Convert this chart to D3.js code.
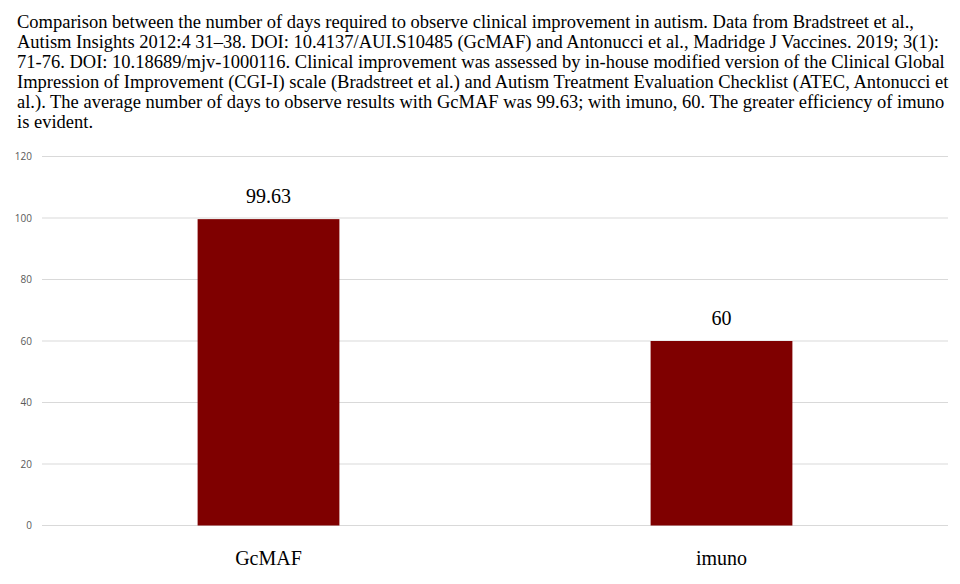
<!DOCTYPE html>
<html><head><meta charset="utf-8">
<script src="https://cdn.jsdelivr.net/npm/d3@7"></script>
<style>body{margin:0;background:#fff}svg{display:block}</style>
</head><body>
<svg id="chart" width="960" height="584"></svg>
<script>
const categories = ["GcMAF", "imuno"];
const values = [99.63, 60];
const valueLabels = ["99.63", "60"];
const yTicks = [0, 20, 40, 60, 80, 100, 120];
const titleLines = [
  "Comparison between the number of days required to observe clinical improvement in autism. Data from Bradstreet et al.,",
  "Autism Insights 2012:4 31\u201338. DOI: 10.4137/AUI.S10485 (GcMAF) and Antonucci et al., Madridge J Vaccines. 2019; 3(1):",
  "71-76. DOI: 10.18689/mjv-1000116. Clinical improvement was assessed by in-house modified version of the Clinical Global",
  "Impression of Improvement (CGI-I) scale (Bradstreet et al.) and Autism Treatment Evaluation Checklist (ATEC, Antonucci et",
  "al.). The average number of days to observe results with GcMAF was 99.63; with imuno, 60. The greater efficiency of imuno",
  "is evident."
];

const svg = d3.select("#chart");
const mLeft = 42, mRight = 948, mTop = 156.5, mBottom = 525.5;

svg.append("g").selectAll("text").data(titleLines).join("text")
  .attr("x", 17).attr("y", (d, i) => 28 + i * 19.9)
  .attr("font-family", "'Liberation Serif', 'Times New Roman', serif")
  .attr("font-size", 18.5).attr("fill", "#000").text(d => d);

const y = d3.scaleLinear().domain([0, 120]).range([mBottom, mTop]);
const x = d3.scaleBand().domain(categories).range([mLeft, mRight])
  .paddingInner(0.687).paddingOuter(0.3435);

// gridlines
svg.append("g").selectAll("line").data(yTicks).join("line")
  .attr("x1", mLeft).attr("x2", mRight)
  .attr("y1", d => y(d)).attr("y2", d => y(d))
  .attr("stroke", "#d9d9d9").attr("stroke-width", 1.2);

// y axis labels
const yAxis = d3.axisLeft(y).tickValues(yTicks).tickSize(0).tickPadding(0);
const ga = svg.append("g").attr("transform", `translate(32,0)`).call(yAxis);
ga.select(".domain").remove();
ga.selectAll("text").attr("font-family", "'Open Sans', Calibri, sans-serif")
  .attr("font-size", 10).attr("fill", "#595959");

// bars
svg.append("g").selectAll("rect").data(values).join("rect")
  .attr("x", (d, i) => x(categories[i]))
  .attr("width", x.bandwidth())
  .attr("y", d => y(d))
  .attr("height", d => y(0) - y(d))
  .attr("fill", "#7f0000");

// value labels
svg.append("g").selectAll("text").data(values).join("text")
  .attr("x", (d, i) => x(categories[i]) + x.bandwidth() / 2)
  .attr("y", d => y(d) - 16)
  .attr("text-anchor", "middle")
  .attr("font-family", "'Liberation Serif', 'Times New Roman', serif")
  .attr("font-size", 20).attr("fill", "#000")
  .text((d, i) => valueLabels[i]);

// category labels
const xAxis = d3.axisBottom(x).tickSize(0).tickPadding(0);
const gx = svg.append("g").attr("transform", `translate(0,${mBottom})`).call(xAxis);
gx.select(".domain").remove();
gx.selectAll("text").attr("dy", null).attr("y", 39)
  .attr("font-family", "'Liberation Serif', 'Times New Roman', serif")
  .attr("font-size", 20).attr("fill", "#000");
</script>
</body></html>
